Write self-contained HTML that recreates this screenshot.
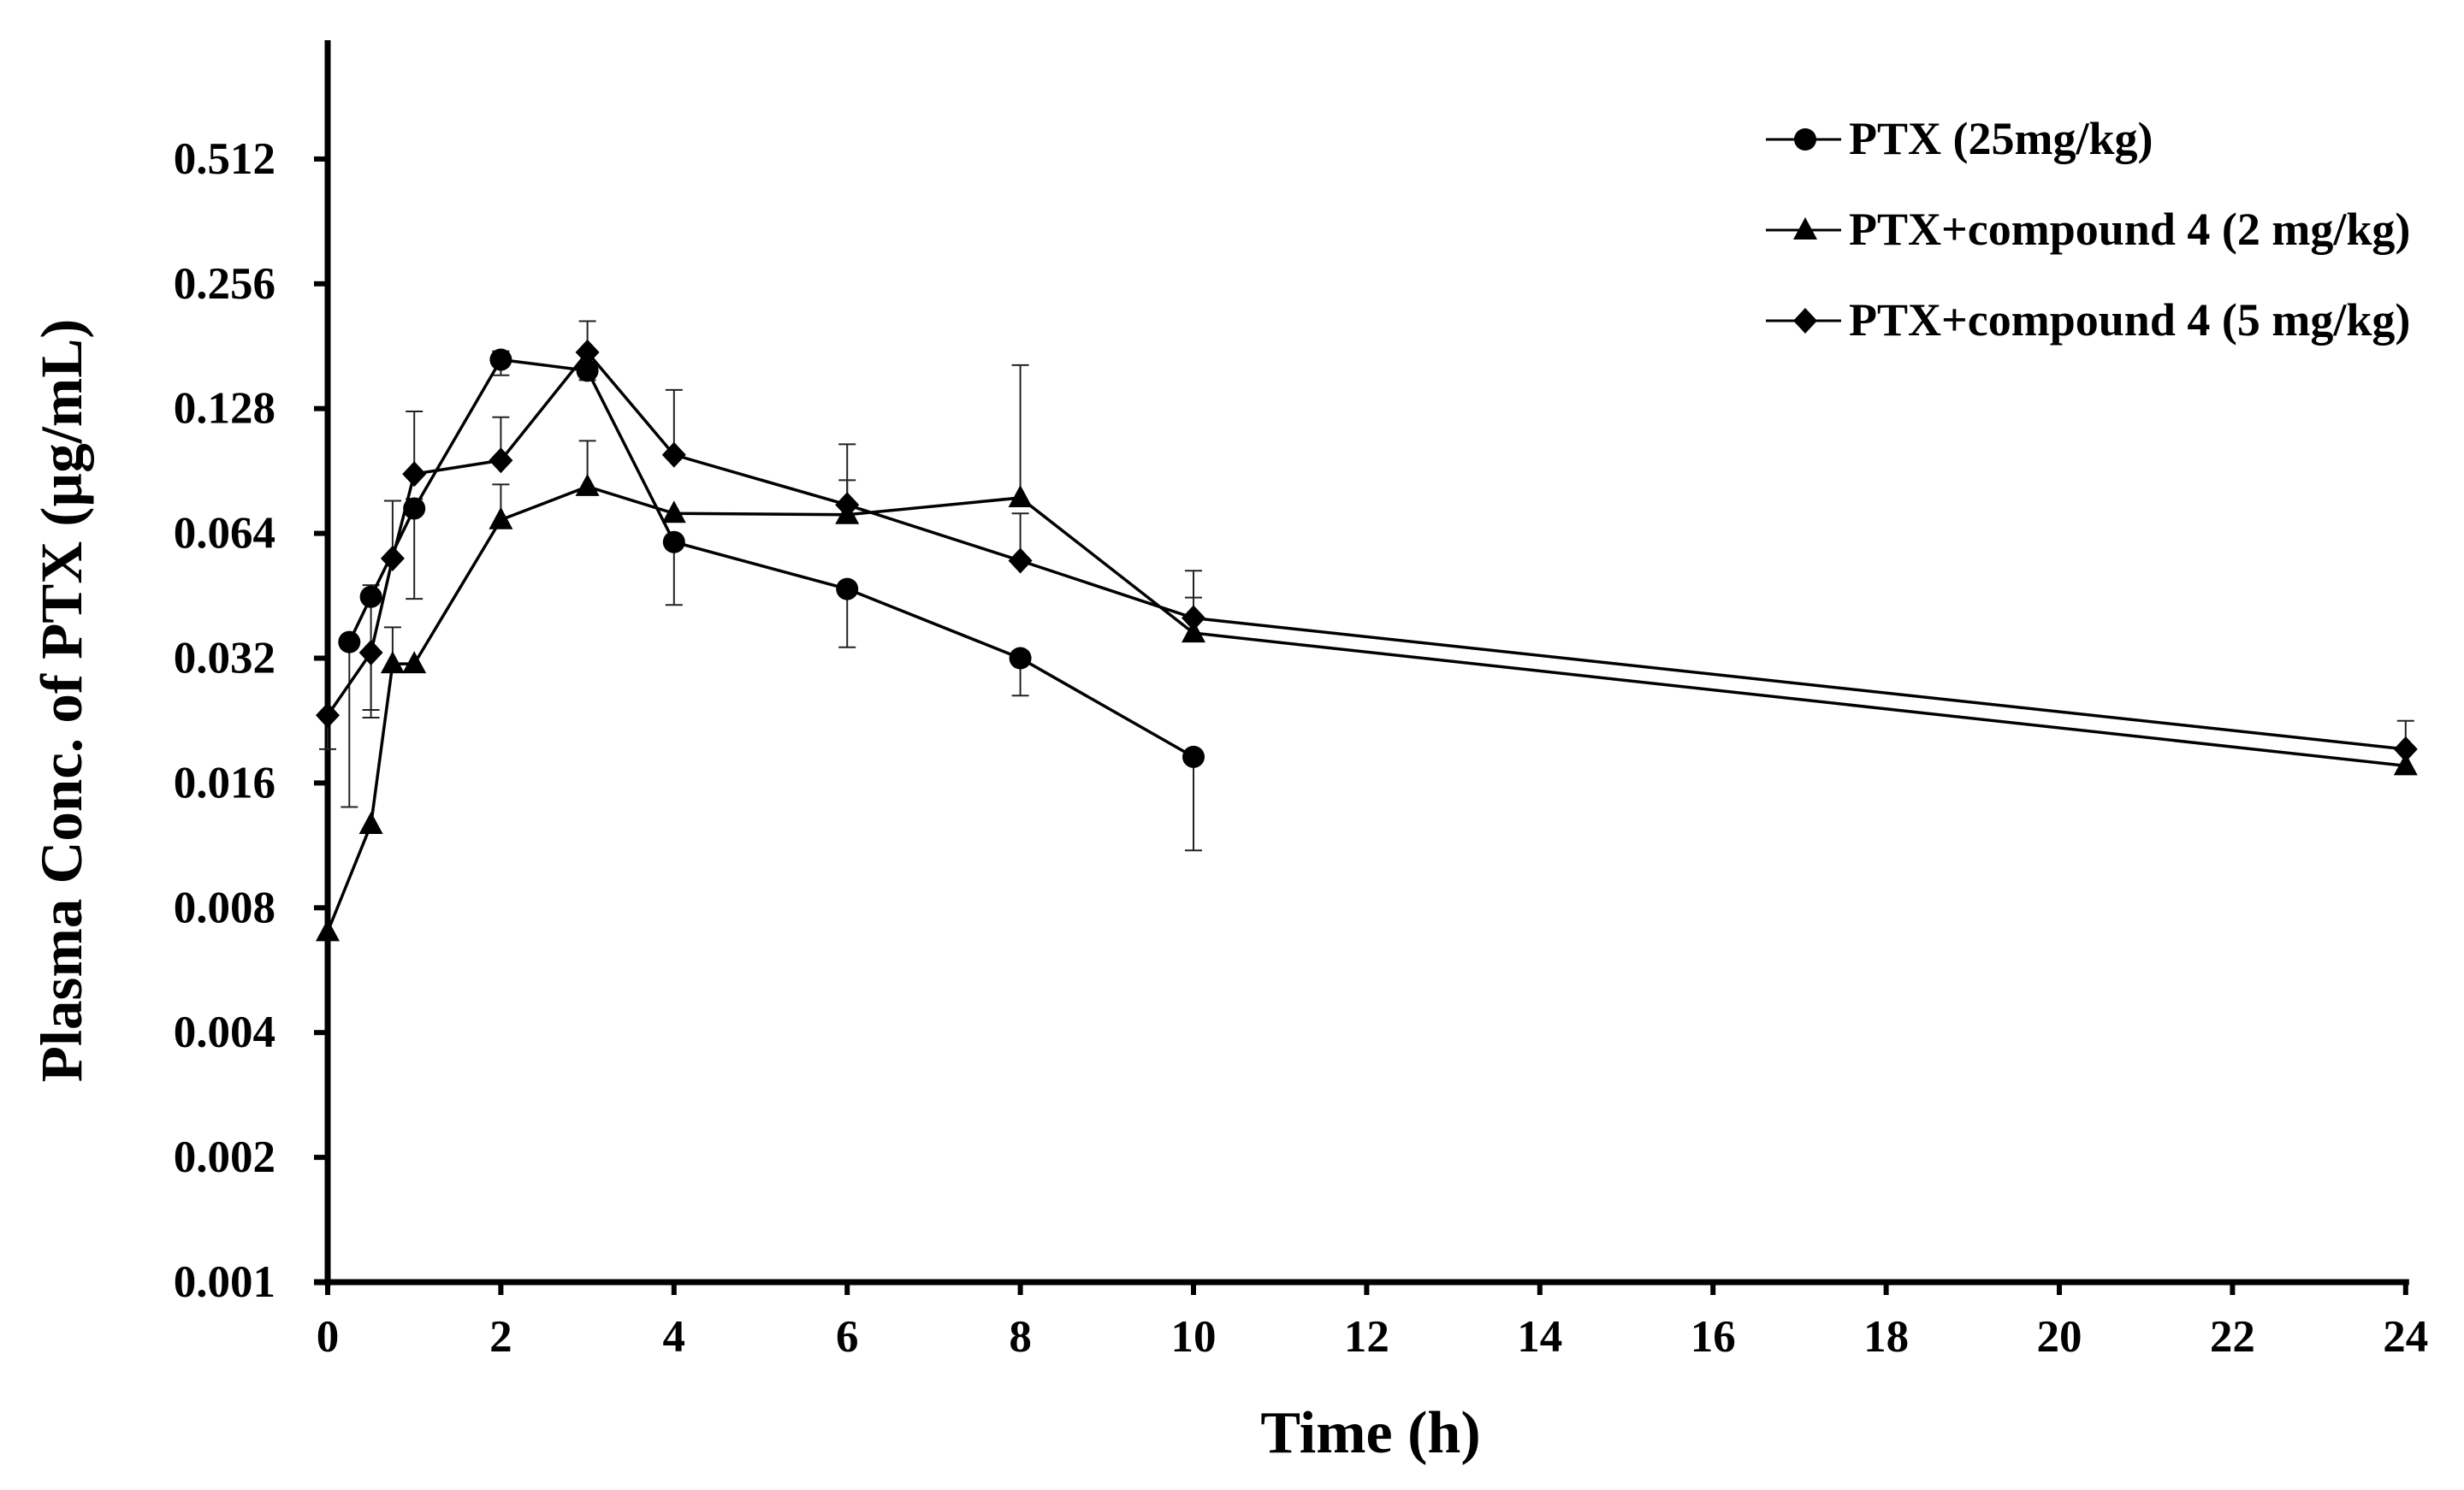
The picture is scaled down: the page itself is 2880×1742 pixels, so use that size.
<!DOCTYPE html>
<html><head><meta charset="utf-8"><style>
html,body{margin:0;padding:0;background:#fff;}
svg{display:block;font-family:"Liberation Serif",serif;font-weight:bold;}
</style></head><body>
<svg id="chart" width="2880" height="1742" viewBox="0 0 2880 1742" xmlns="http://www.w3.org/2000/svg">
<g id="axes"></g>
<g id="series"></g>
<g id="legend"></g>
<text x="1602" y="1698" font-size="70" text-anchor="middle">Time (h)</text>
<text x="0" y="0" font-size="69" text-anchor="middle" transform="translate(95,819) rotate(-90)">Plasma Conc. of PTX (µg/mL)</text>
</svg>
<script>
const xTicks = [0,2,4,6,8,10,12,14,16,18,20,22,24];
const yTicks = [0.001,0.002,0.004,0.008,0.016,0.032,0.064,0.128,0.256,0.512];
const yTickLabels = ["0.001","0.002","0.004","0.008","0.016","0.032","0.064","0.128","0.256","0.512"];
const seriesNames = ["PTX (25mg/kg)","PTX+compound 4 (2 mg/kg)","PTX+compound 4 (5 mg/kg)"];
const ptxTimes = [0.25,0.5,1,2,3,4,6,8,10];
const ptxValues = [0.035,0.045,0.0735,0.168,0.158,0.061,0.047,0.032,0.0185];
const ptxErrUp = [0,0.003,0.004,0.008,0.008,0,0,0,0];
const ptxErrDown = [0.021,0.021,0.029,0.014,0.008,0.018,0.013,0.006,0.0075];
const c2Times = [0,0.5,0.75,1,2,3,4,6,8,10,24];
const c2Values = [0.007,0.0127,0.031,0.031,0.069,0.083,0.0715,0.071,0.078,0.0368,0.0176];
const c2ErrUp = [0,0,0.007,0,0.015,0.024,0,0.015,0.085,0.008,0];
const c2ErrDown = [0,0,0,0,0,0,0,0,0,0,0];
const c5Times = [0,0.5,0.75,1,2,3,4,6,8,10,24];
const c5Values = [0.0233,0.033,0.0557,0.089,0.096,0.175,0.099,0.075,0.055,0.040,0.0193];
const c5ErrUp = [0,0,0.021,0.037,0.026,0.033,0.043,0.030,0.0165,0.012,0.0033];
const c5ErrDown = [0.004,0.010,0,0,0,0,0,0,0,0,0];

const NS = "http://www.w3.org/2000/svg";
const X0 = 383, PXH = 101.2, YBASE = 1499, PXD = 145.9;
function xs(t){ return X0 + t*PXH; }
function ys(v){ return YBASE - Math.log2(v/0.001)*PXD; }
function mk(tag, attrs, parent){ const e=document.createElementNS(NS,tag); for(const k in attrs) e.setAttribute(k,attrs[k]); parent.appendChild(e); return e; }

const axes = document.getElementById('axes');
let el = mk('line',{x1:X0,y1:47,x2:X0,y2:YBASE+4,stroke:'#000','stroke-width':7},axes);


el = mk('line',{x1:X0-16,y1:YBASE,x2:xs(24)+4,y2:YBASE,stroke:'#000','stroke-width':7},axes);


xTicks.forEach(t=>{
  const tk = mk('line',{x1:xs(t),y1:YBASE,x2:xs(t),y2:YBASE+15,stroke:'#000','stroke-width':6},axes);
  
  
  const tl = mk('text',{x:xs(t),y:YBASE+81,'font-size':53,'text-anchor':'middle'},axes);
  tl.textContent = String(t);
  
  
});
yTicks.forEach((v,i)=>{
  const tk = mk('line',{x1:X0-16,y1:ys(v),x2:X0,y2:ys(v),stroke:'#000','stroke-width':6},axes);
  
  
  const tl = mk('text',{x:322,y:ys(v)+17,'font-size':53,'text-anchor':'end'},axes);
  tl.textContent = yTickLabels[i];
  
  
});

function marker(type,cx,cy,parent){
  let m;
  if(type==='circle') m = mk('circle',{cx:cx,cy:cy,r:13,fill:'#000'},parent);
  else if(type==='triangle') m = mk('polygon',{points:`${cx},${cy-15} ${cx+14},${cy+11} ${cx-14},${cy+11}`,fill:'#000'},parent);
  else m = mk('polygon',{points:`${cx},${cy-15} ${cx+14},${cy} ${cx},${cy+15} ${cx-14},${cy}`,fill:'#000'},parent);
  return m;
}
const seriesG = document.getElementById('series');
function drawSeries(name,times,vals,up,down,type){
  const g = mk('g',{},seriesG);
  
  
  times.forEach((t,i)=>{
    const x = xs(t);
    [[up[i],1],[down[i],-1]].forEach(([e,s])=>{
      if(e>0){
        const ye = ys(vals[i]+s*e);
        const l = mk('line',{x1:x,y1:ys(vals[i]),x2:x,y2:ye,stroke:'#222','stroke-width':2},g);
        
        
        const c = mk('line',{x1:x-10,y1:ye,x2:x+10,y2:ye,stroke:'#222','stroke-width':2},g);
        
        
      }
    });
  });
  const pts = times.map((t,i)=>xs(t)+','+ys(vals[i])).join(' ');
  const pl = mk('polyline',{points:pts,fill:'none',stroke:'#000','stroke-width':3.5},g);
  
  
  times.forEach((t,i)=>{
    const m = marker(type,xs(t),ys(vals[i]),g);
    
    
  });
}
drawSeries('series-ptx-25',ptxTimes,ptxValues,ptxErrUp,ptxErrDown,'circle');
drawSeries('series-compound4-2',c2Times,c2Values,c2ErrUp,c2ErrDown,'triangle');
drawSeries('series-compound4-5',c5Times,c5Values,c5ErrUp,c5ErrDown,'diamond');

const legend = document.getElementById('legend');
const types = ['circle','triangle','diamond'];
const legYs = [163,269,375];
seriesNames.forEach((n,i)=>{
  const g = mk('g',{},legend);
  
  
  mk('line',{x1:2064,y1:legYs[i],x2:2152,y2:legYs[i],stroke:'#000','stroke-width':3},g);
  marker(types[i],2110,legYs[i],g);
  const t = mk('text',{x:2161,y:legYs[i]+17,'font-size':54},g);
  t.textContent = n;
});
</script>
</body></html>
